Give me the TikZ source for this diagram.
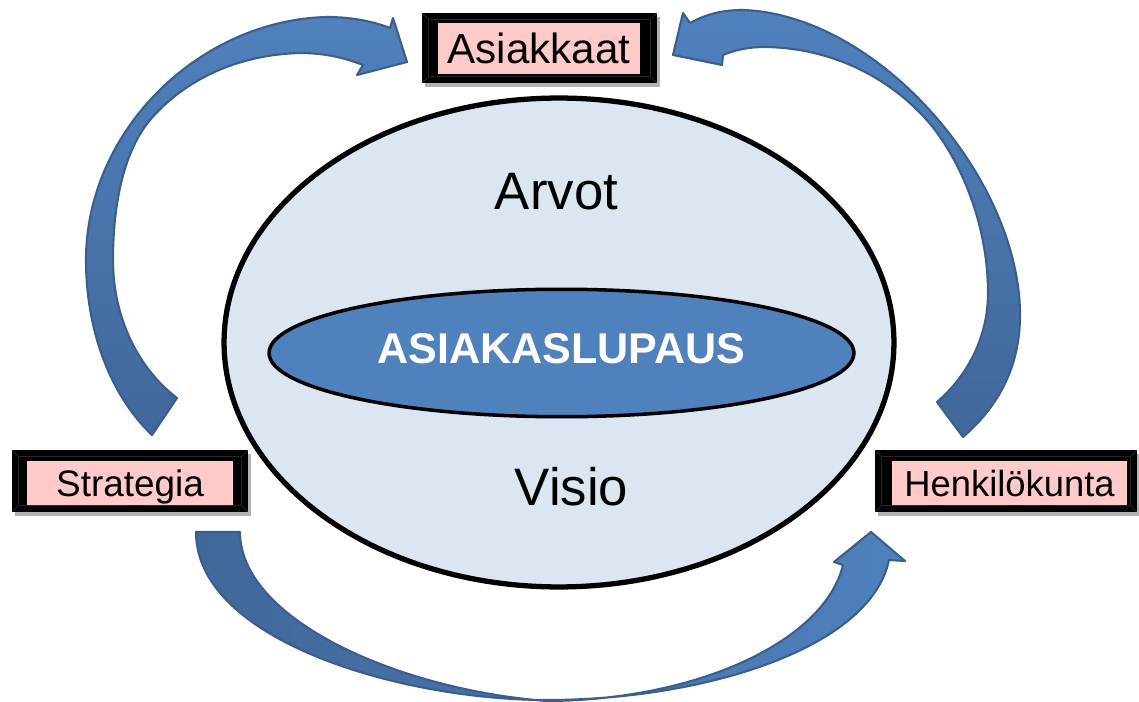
\documentclass[tikz,border=0pt]{standalone}
\usepackage{fontspec}
\setmainfont{Liberation Sans}
\usetikzlibrary{shapes.geometric,shadows}
\definecolor{arrowlight}{HTML}{4F81BD}
\definecolor{arrowdark}{HTML}{41679A}
\definecolor{arrowedge}{HTML}{3B5E8C}
\definecolor{ovalfill}{HTML}{DCE6F2}
\definecolor{pinkfill}{HTML}{FFCACA}
\tikzset{
  blockarrow/.style={draw=arrowedge, line width=1.2pt, line join=round},
  frame/.style={rectangle, fill=black, draw=none, inner sep=0pt,
    drop shadow={shadow xshift=1.5pt, shadow yshift=-2pt, opacity=0.3, fill=black},
    path picture={
      \draw[gray!30!black, line width=0.5pt]
        ([xshift=3.5pt,yshift=-3.5pt]path picture bounding box.north west) rectangle
        ([xshift=-3.5pt,yshift=3.5pt]path picture bounding box.south east);
      \draw[gray!35!black, line width=0.4pt]
        (path picture bounding box.north west) -- ++(3.5pt,-3.5pt)
        (path picture bounding box.north east) -- ++(-3.5pt,-3.5pt)
        (path picture bounding box.south west) -- ++(3.5pt,3.5pt)
        (path picture bounding box.south east) -- ++(-3.5pt,3.5pt);
    }},
  pinkbox/.style={rectangle, fill=pinkfill, draw=none, inner sep=0pt, text=black},
  bigtext/.style={font=\fontsize{30pt}{34pt}\selectfont, anchor=base, inner sep=0pt},
}
\begin{document}
\begin{tikzpicture}[x=0.02cm, y=-0.02cm]
\useasboundingbox (0,0) rectangle (1139,702);

% left curved arrow: Strategia -> Asiakkaat
\path[blockarrow, top color=arrowlight, bottom color=arrowdark]
  (152,435) .. controls (110,395) and (86,330) .. (86,260)
  .. controls (86,130) and (200,20) .. (327,17)
  .. controls (350,17) and (372,21) .. (390,28)
  -- (393,18) -- (407,62) -- (357,75) -- (363,65)
  .. controls (340,56) and (320,53) .. (300,53)
  .. controls (230,55) and (180,85) .. (150,120)
  .. controls (125,150) and (113,200) .. (113,260)
  .. controls (113,320) and (140,370) .. (177,398)
  -- cycle;

% right curved arrow: Henkilokunta -> Asiakkaat
\path[blockarrow, top color=arrowlight, bottom color=arrowdark]
  (963,437) .. controls (1000,405) and (1020,365) .. (1020,315)
  .. controls (1020,180) and (880,15) .. (743,10)
  .. controls (720,10) and (705,15) .. (690,23)
  -- (683,13) -- (673,55) -- (722,65) -- (723,55)
  .. controls (735,50) and (748,47) .. (765,47)
  .. controls (840,48) and (900,85) .. (935,130)
  .. controls (965,170) and (988,230) .. (988,293)
  .. controls (988,340) and (965,378) .. (937,402)
  -- cycle;

% bottom curved arrow: Strategia -> Henkilokunta
\path[blockarrow, left color=arrowdark, right color=arrowlight]
  (196,532) .. controls (196,640) and (400,700) .. (547,700)
  .. controls (700,700) and (870,650) .. (889,560)
  -- (905,561) -- (871,532) -- (834,562) -- (843,565)
  .. controls (825,640) and (700,700) .. (547,701)
  .. controls (400,690) and (240,620) .. (240,532)
  -- cycle;

% central ellipses
\node[ellipse, draw=black, line width=3pt, fill=ovalfill, inner sep=0pt,
      minimum width=13.4cm, minimum height=9.78cm] (outer) at (559,342.5) {};
\node[ellipse, draw=black, line width=2pt, fill=arrowlight, inner sep=0pt,
      minimum width=11.7cm, minimum height=2.55cm] (inner) at (561.5,353) {};
\node[anchor=base, inner sep=0pt, text=white, font=\fontsize{24.5pt}{28pt}\selectfont\bfseries] (promise) at (561.5,363) {ASIAKASLUPAUS};

\node[bigtext] (arvot) at (556.5,210) {Arvot};
\node[bigtext] (visio) at (571.5,505) {Visio};

% boxes
\node[frame, minimum width=4.7cm, minimum height=1.4cm] (custframe) at (539.5,48) {};
\node[pinkbox, minimum width=4.04cm, minimum height=1.04cm, text height=17.2pt, text depth=0pt,
      font=\fontsize{24pt}{28pt}\selectfont] (cust) at (539,48.5) {Asiakkaat};

\node[frame, minimum width=4.72cm, minimum height=1.24cm] (stratframe) at (130,481) {};
\node[pinkbox, minimum width=4.12cm, minimum height=0.88cm, text height=15pt, text depth=0pt,
      font=\fontsize{21pt}{25pt}\selectfont] (strat) at (130,483) {Strategia};

\node[frame, minimum width=5.24cm, minimum height=1.24cm] (staffframe) at (1006,481) {};
\node[pinkbox, minimum width=4.7cm, minimum height=0.88cm, text height=14.8pt, text depth=0pt,
      font=\fontsize{20.7pt}{25pt}\selectfont] (staff) at (1009.5,483) {Henkilökunta};
\end{tikzpicture}
\end{document}
